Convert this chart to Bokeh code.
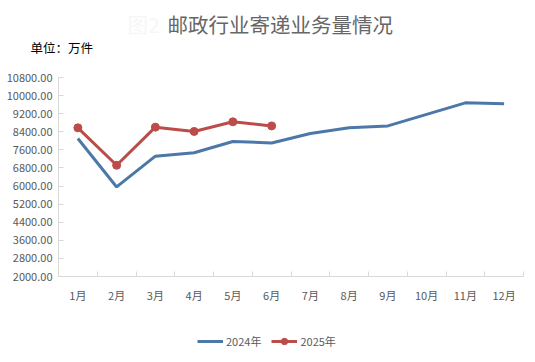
from bokeh.plotting import figure
from bokeh.models import (FixedTicker, NumeralTickFormatter, Label, Legend, LegendItem, Range1d)
from bokeh.embed import file_html
from bokeh.resources import INLINE

months = ["1月", "2月", "3月", "4月", "5月", "6月", "7月", "8月", "9月", "10月", "11月", "12月"]
y2024 = [8100, 5960, 7320, 7470, 7970, 7905, 8325, 8575, 8660, 9170, 9680, 9640]
y2025 = [8575, 6920, 8605, 8415, 8840, 8660]
y_ticks = [2000, 2800, 3600, 4400, 5200, 6000, 6800, 7600, 8400, 9200, 10000, 10800]

FONT = "Noto Sans CJK SC"
GRAY = "#595959"
AXIS = "#d9d9d9"
BLUE = "#4b78a8"
RED = "#bc4c49"

x_pos = list(range(1, len(months) + 1))
x_lo, x_hi = x_pos[0] - 0.5, x_pos[-1] + 0.5
y_lo, y_hi = y_ticks[0], y_ticks[-1]

# canvas and plot-box geometry (pixels)
W, H = 527, 354
BOX_L, BOX_R, BOX_T, BOX_B = 58, 523, 77, 276
sx = (BOX_R - BOX_L) / (x_hi - x_lo)
sy = (BOX_B - BOX_T) / (y_hi - y_lo)
x_range = Range1d(x_lo - BOX_L / sx, x_hi + (W - BOX_R) / sx)
y_range = Range1d(y_lo - (H - BOX_B) / sy, y_hi + BOX_T / sy)

p = figure(frame_width=W, frame_height=H, output_backend="svg", toolbar_location=None,
           x_range=x_range, y_range=y_range, min_border=0)
p.outline_line_color = None
p.xgrid.visible = False
p.ygrid.visible = False

r1 = p.line(x_pos, y2024, line_color=BLUE, line_width=3)
r2 = p.line(x_pos[:len(y2025)], y2025, line_color=RED, line_width=3)
r3 = p.scatter(x_pos[:len(y2025)], y2025, size=8, fill_color=RED, line_color=RED)

xa = p.xaxis[0]
xa.fixed_location = y_lo
xa.bounds = (x_lo, x_hi)
xa.ticker = FixedTicker(ticks=x_pos, minor_ticks=[x - 0.5 for x in x_pos] + [x_hi])
xa.major_label_overrides = {x: m for x, m in zip(x_pos, months)}
xa.major_tick_line_color = None
xa.minor_tick_in = 5
xa.minor_tick_out = 0
xa.minor_tick_line_color = AXIS
xa.axis_line_color = AXIS
xa.major_label_text_font = FONT
xa.major_label_text_font_size = "11px"
xa.major_label_text_color = GRAY
xa.major_label_standoff = 4

ya = p.yaxis[0]
ya.fixed_location = x_lo
ya.bounds = (y_lo, y_hi)
ya.ticker = FixedTicker(ticks=y_ticks)
ya.formatter = NumeralTickFormatter(format="0.00")
ya.major_tick_in = 5
ya.major_tick_out = 0
ya.minor_tick_line_color = None
ya.major_tick_line_color = AXIS
ya.axis_line_color = AXIS
ya.major_label_text_font = FONT
ya.major_label_text_font_size = "11px"
ya.major_label_text_color = GRAY
ya.major_label_standoff = 6

# texts above the plot box (screen px from canvas left / bottom)
p.add_layout(Label(x=127, y=H - 23, x_units="screen", y_units="screen", text="图2",
                   text_font=FONT, text_font_size="20.5px", text_color="#f6f6f6",
                   text_align="left", text_baseline="middle"))
p.add_layout(Label(x=167, y=H - 23, x_units="screen", y_units="screen", text="邮政行业寄递业务量情况",
                   text_font=FONT, text_font_size="20.5px", text_color="#666666",
                   text_align="left", text_baseline="middle"))
p.add_layout(Label(x=30, y=H - 47, x_units="screen", y_units="screen", text="单位：万件",
                   text_font=FONT, text_font_size="12.5px", text_color="#000000",
                   text_align="left", text_baseline="middle"))

legend = Legend(items=[LegendItem(label="2024年", renderers=[r1]),
                       LegendItem(label="2025年", renderers=[r2, r3])],
                orientation="horizontal", location=(197, H - 349),
                label_text_font=FONT, label_text_font_size="11px", label_text_color=GRAY,
                glyph_width=26, glyph_height=16, label_height=16, spacing=10, label_standoff=3,
                border_line_color=None, background_fill_alpha=0, margin=0, padding=0)
p.add_layout(legend)

open("out.html", "w").write(file_html(p, INLINE))
